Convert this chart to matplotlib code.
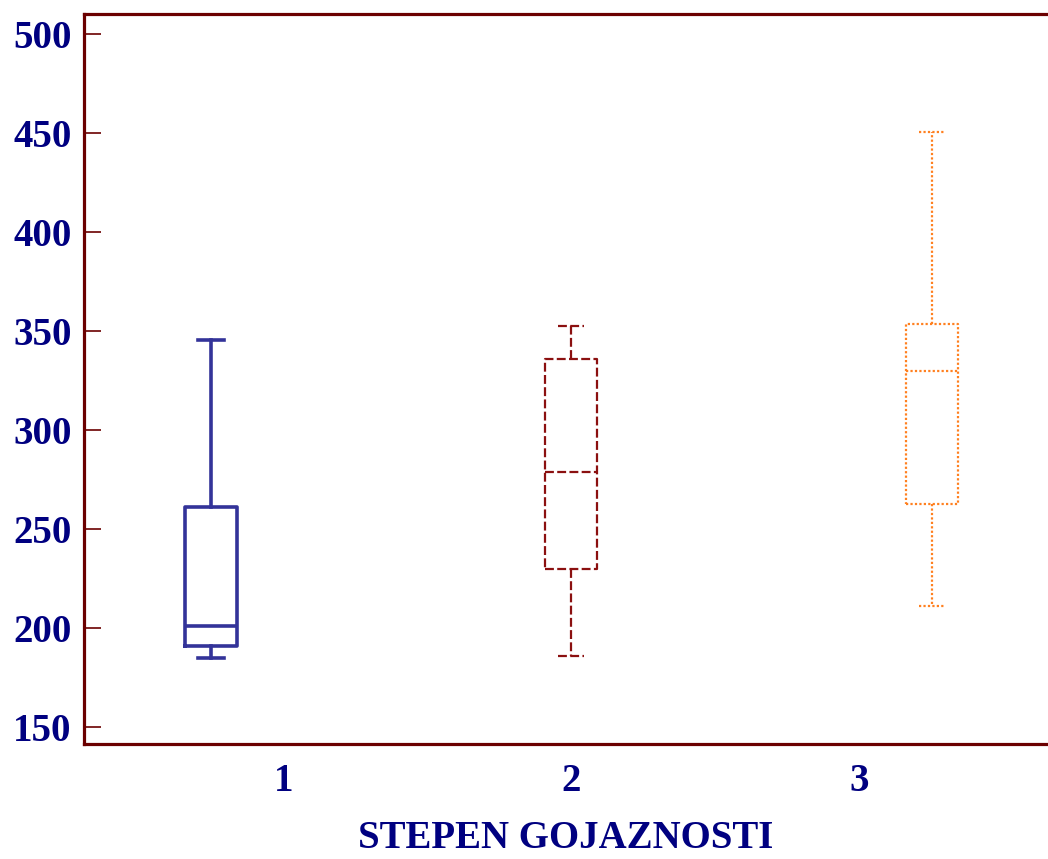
import matplotlib
matplotlib.use("Agg")
import matplotlib.pyplot as plt

# Data
groups = ["1", "2", "3"]
whislo = [185, 186, 211]
q1 = [191, 230, 262.5]
med = [201, 279, 330]
q3 = [261, 336, 353.5]
whishi = [345.5, 352.5, 450.5]
box_positions = [1, 2, 3]
label_positions = [1.2025, 2.0, 2.798]
yticks = [150, 200, 250, 300, 350, 400, 450, 500]

colors = ["#333399", "#8B1010", "#FF8020"]
styles = ["-", (0, (4, 1.5)), (0, (1, 1))]
widths_lw = [2.6, 1.6, 1.6]

navy = "#000080"
spine_col = "#6B0000"

fig = plt.figure(figsize=(10.48, 8.59), dpi=100)
ax = fig.add_axes([84/1048, 1-744/859, 1-84/1048, (744-14)/859])

for i in range(len(groups)):
    st = [dict(whislo=whislo[i], q1=q1[i], med=med[i], q3=q3[i],
               whishi=whishi[i], fliers=[], label=groups[i])]
    c = colors[i]
    lw = widths_lw[i]
    ls = styles[i]
    ax.bxp(st, positions=[box_positions[i]], widths=0.144, capwidths=0.072,
           showfliers=False, manage_ticks=False,
           boxprops=dict(color=c, linewidth=lw, linestyle=ls),
           whiskerprops=dict(color=c, linewidth=lw, linestyle=ls),
           capprops=dict(color=c, linewidth=lw, linestyle=ls),
           medianprops=dict(color=c, linewidth=lw, linestyle=ls))

ax.set_xlim(0.648, 3.322)
ax.set_ylim(141.4, 510.1)

ax.set_yticks(yticks)
ax.set_yticklabels([str(t) for t in yticks])
ax.set_xticks(label_positions)
ax.set_xticklabels(groups)

font = dict(family="Liberation Serif", weight="bold", color=navy)
for lab in ax.get_yticklabels():
    lab.set_fontfamily("Liberation Serif"); lab.set_fontweight("bold")
    lab.set_fontsize(28); lab.set_color(navy)
for lab in ax.get_xticklabels():
    lab.set_fontfamily("Liberation Serif"); lab.set_fontweight("bold")
    lab.set_fontsize(28); lab.set_color(navy)

ax.tick_params(axis="y", direction="in", length=12, width=1.2, color=spine_col, pad=9)
ax.tick_params(axis="x", length=0, pad=14)

for s in ["left", "top", "bottom"]:
    ax.spines[s].set_color(spine_col)
    ax.spines[s].set_linewidth(2.3)
ax.spines["right"].set_visible(False)

ax.set_xlabel("STEPEN GOJAZNOSTI", fontsize=28, labelpad=14, **font)

fig.savefig("out.png", dpi=100)
